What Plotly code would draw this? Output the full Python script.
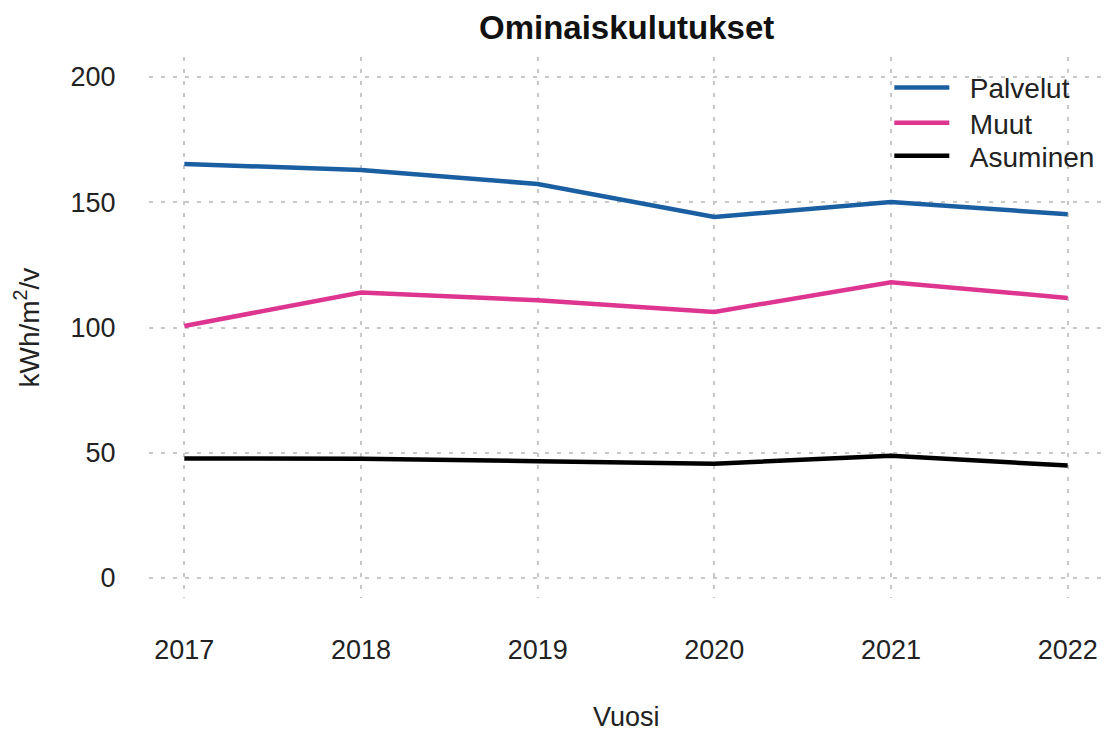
import plotly.graph_objects as go

years = [2017, 2018, 2019, 2020, 2021, 2022]
palvelut = [165.3, 162.9, 157.3, 144.1, 150.1, 145.2]
muut = [100.6, 114.0, 110.9, 106.2, 118.1, 111.8]
asuminen = [47.7, 47.6, 46.6, 45.6, 48.8, 44.9]

series_names = ["Palvelut", "Muut", "Asuminen"]
series_values = [palvelut, muut, asuminen]
series_colors = ["#1b5fa3", "#de3590", "#000000"]

y_ticks = [0, 50, 100, 150, 200]

FONT = "Liberation Sans, Arial, Helvetica, sans-serif"

# one legend per row so the row spacing matches the reference
legend_ids = ["legend", "legend2", "legend3"]
legend_y = [0.943, 0.878, 0.817]

fig = go.Figure()
for name, vals, col, lid in zip(series_names, series_values, series_colors, legend_ids):
    fig.add_trace(go.Scatter(
        x=years, y=vals, name="\u00a0\u00a0" + name, mode="lines",
        line=dict(color=col, width=4.5), legend=lid,
    ))

grid = dict(showgrid=True, gridcolor="#c8c8c8", gridwidth=2, griddash="4px,8px",
            zeroline=False, showline=False)

leg_common = dict(xanchor="left", yanchor="middle", bgcolor="rgba(0,0,0,0)",
                  borderwidth=0, itemwidth=55,
                  font=dict(family=FONT, size=28, color="#222222"))

layout_legends = {}
for lid, ly in zip(legend_ids, legend_y):
    layout_legends[lid] = dict(x=0.776, y=ly, **leg_common)

fig.update_layout(
    width=1110, height=731,
    margin=dict(l=149, r=7, t=57, b=133),
    paper_bgcolor="white", plot_bgcolor="white",
    font=dict(family=FONT, size=27, color="#222222"),
    showlegend=True,
    xaxis=dict(
        range=[2016.8, 2022.2], tickmode="array", tickvals=years,
        ticktext=[str(y) for y in years],
        ticks="outside", ticklen=0, ticklabelstandoff=28,
        **grid,
    ),
    yaxis=dict(
        range=[-8, 208], tickmode="array", tickvals=y_ticks,
        ticktext=[str(v) for v in y_ticks],
        ticks="outside", ticklen=0, ticklabelstandoff=27,
        **grid,
    ),
    annotations=[
        dict(text="<b>Ominaiskulutukset</b>", xref="paper", yref="paper",
             x=0.5, y=1, yshift=30, xanchor="center", yanchor="middle",
             showarrow=False, font=dict(family=FONT, size=33, color="#111111")),
        dict(text="Vuosi", xref="paper", yref="paper",
             x=0.5, y=0, yshift=-119, xanchor="center", yanchor="middle",
             showarrow=False, font=dict(family=FONT, size=27, color="#222222")),
        dict(text="kWh/m<sup>2</sup>/v", xref="paper", yref="paper",
             x=0, y=0.5, xshift=-122, xanchor="center", yanchor="middle",
             textangle=-90, showarrow=False,
             font=dict(family=FONT, size=28, color="#222222")),
    ],
    **layout_legends,
)

fig.write_html("out.html")
